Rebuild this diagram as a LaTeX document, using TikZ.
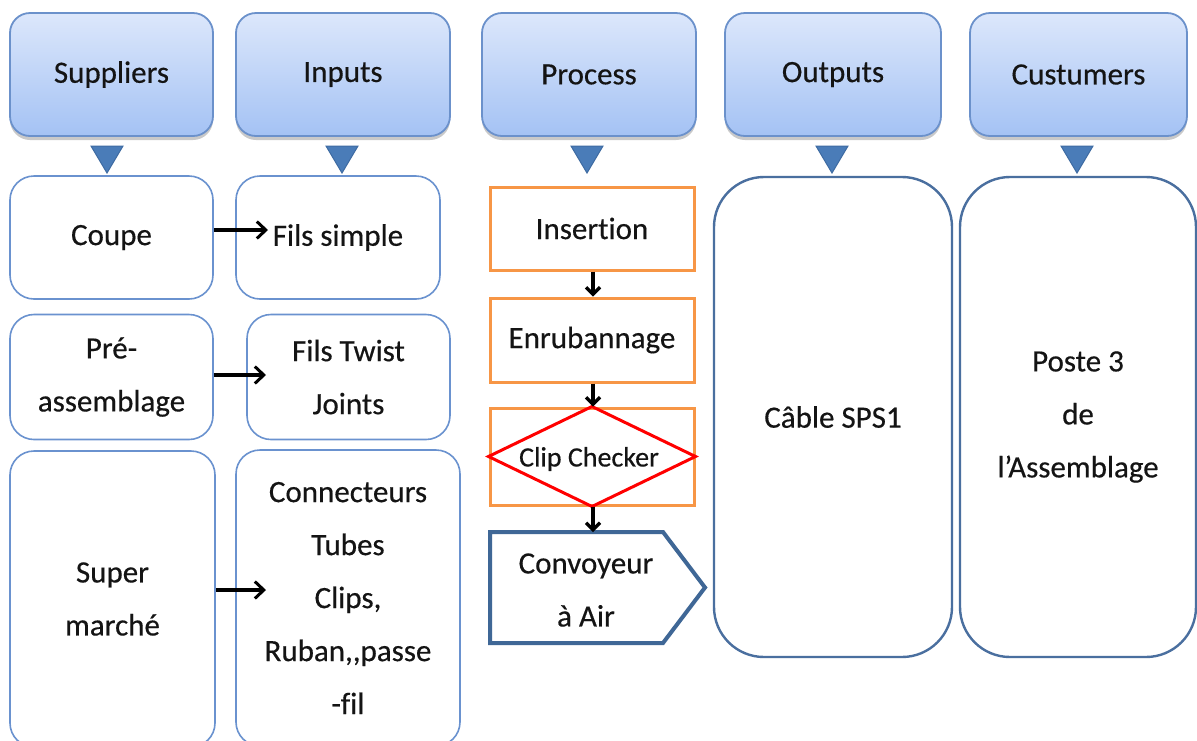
\documentclass[tikz,border=0pt]{standalone}
\usepackage{fontspec}
\setmainfont{Carlito}[Ligatures={NoCommon}, FakeBold=0.4]
\usetikzlibrary{arrows.meta,shadows}

\definecolor{hdrtop}{HTML}{DCE7FB}
\definecolor{hdrbot}{HTML}{A4C2F4}
\definecolor{hdrline}{HTML}{6B91CB}
\definecolor{boxline}{HTML}{6A92CF}
\definecolor{bigline}{HTML}{4A6F9F}
\definecolor{trifill}{HTML}{4A7CB8}
\definecolor{triline}{HTML}{3E6BA2}
\definecolor{procorange}{HTML}{F79646}
\definecolor{convblue}{HTML}{3F6796}
\definecolor{inkdark}{HTML}{141414}

\tikzset{
  txt/.style={font=\fontsize{31}{53}\selectfont, text=inkdark, align=center},
  header/.style={txt, rounded corners=20pt, draw=hdrline, line width=1.8pt,
    top color=hdrtop, bottom color=hdrbot, inner sep=0pt,
    drop shadow={shadow xshift=0pt, shadow yshift=-4pt, opacity=0.35, fill=black!60}},
  item/.style={txt, rounded corners=24pt, draw=boxline, line width=1.6pt, fill=white, inner sep=0pt},
  bigitem/.style={txt, rounded corners=50pt, draw=bigline, line width=2.4pt, fill=white, inner sep=0pt},
  stepbox/.style={txt, draw=procorange, line width=3pt, fill=white, inner sep=0pt},
  tri/.style={fill=trifill, draw=triline, line width=1pt},
  feed/.style={draw=black, line width=3.5pt, -{Straight Barb[length=9pt,width=17pt,line width=3pt]}},
  steplink/.style={draw=black, line width=3.2pt, -{Straight Barb[length=7pt,width=14pt]}},
}

\begin{document}
\begin{tikzpicture}[x=1pt, y=-1pt]
\clip (0,0) rectangle (1197,740);
\fill[white] (0,0) rectangle (1197,740);

% column headers
\node[header, minimum width=203pt, minimum height=123pt] (hsup) at (111.5,74.5) {Suppliers};
\node[header, minimum width=214pt, minimum height=123pt] (hinp) at (343,74.5) {Inputs};
\node[header, minimum width=214pt, minimum height=123pt] (hpro) at (589,74.5) {Process};
\node[header, minimum width=216pt, minimum height=123pt] (hout) at (833,74.5) {Outputs};
\node[header, minimum width=217pt, minimum height=123pt] (hcus) at (1078.5,74.5) {Custumers};

% pointers below the headers
\foreach \cx in {107,342,587,832,1077}
  \filldraw[tri] (\cx-16,146) -- (\cx+16,146) -- (\cx,173) -- cycle;

% suppliers
\node[item, minimum width=203pt, minimum height=123pt] (coupe) at (111.5,237.5) {Coupe};
\node[item, minimum width=203pt, minimum height=125pt] (pre) at (111.5,377) {Pré-\\assemblage};
\node[item, minimum width=205pt, minimum height=296pt] (super) at (112.5,599) {Super\\marché};

% inputs
\node[item, minimum width=204pt, minimum height=123pt] (fils) at (338,237.5) {Fils simple};
\node[item, minimum width=203pt, minimum height=125pt] (twist) at (348.5,377) {Fils Twist\\Joints};
\node[item, minimum width=224pt, minimum height=296pt] (conn) at (348,598) {Connecteurs\\Tubes\\Clips,\\Ruban,{},passe\\-fil};

% supplier to input arrows
\coordinate (filsin) at (268,230);
\coordinate (twistin) at (266,375);
\coordinate (connin) at (266,590);
\draw[feed] (coupe.east |- filsin) -- (filsin);
\draw[feed] (pre.east |- twistin) -- (twistin);
\draw[feed] (super.east |- connin) -- (connin);

% process steps
\node[stepbox, minimum width=204pt, minimum height=83pt] (ins) at (592,228.5) {Insertion};
\node[stepbox, minimum width=204pt, minimum height=84pt] (enr) at (592,340) {Enrubannage};
\node[stepbox, minimum width=204pt, minimum height=97pt] (clip) at (592,456.5) {};
\draw[red, line width=3pt, line join=miter] (clip.west) -- (clip.north) -- (clip.east) -- (clip.south) -- cycle;
\node[txt, font=\fontsize{28}{30}\selectfont] (cliptxt) at (589,459) {Clip Checker};

% conveyor
\draw[convblue, line width=4pt, line join=miter] (490,532) -- (663,532) -- (705,587.5) -- (663,643) -- (490,643) -- cycle;
\node[txt] (conv) at (586,590) {Convoyeur\\à Air};
\coordinate (convin) at (593,532);

% links between the process steps
\draw[steplink] ([xshift=1pt]ins.south) -- ([xshift=1pt]enr.north);
\draw[steplink] ([xshift=1pt]enr.south) -- ([xshift=1pt]clip.north);
\draw[steplink] ([xshift=1pt]clip.south) -- (convin);

% outputs and customers
\node[bigitem, minimum width=238pt, minimum height=480pt] (cable) at (833,417) {Câble SPS1};
\node[bigitem, minimum width=236pt, minimum height=480pt] (poste) at (1078,417) {Poste 3\\de\\l’Assemblage};
\end{tikzpicture}
\end{document}
